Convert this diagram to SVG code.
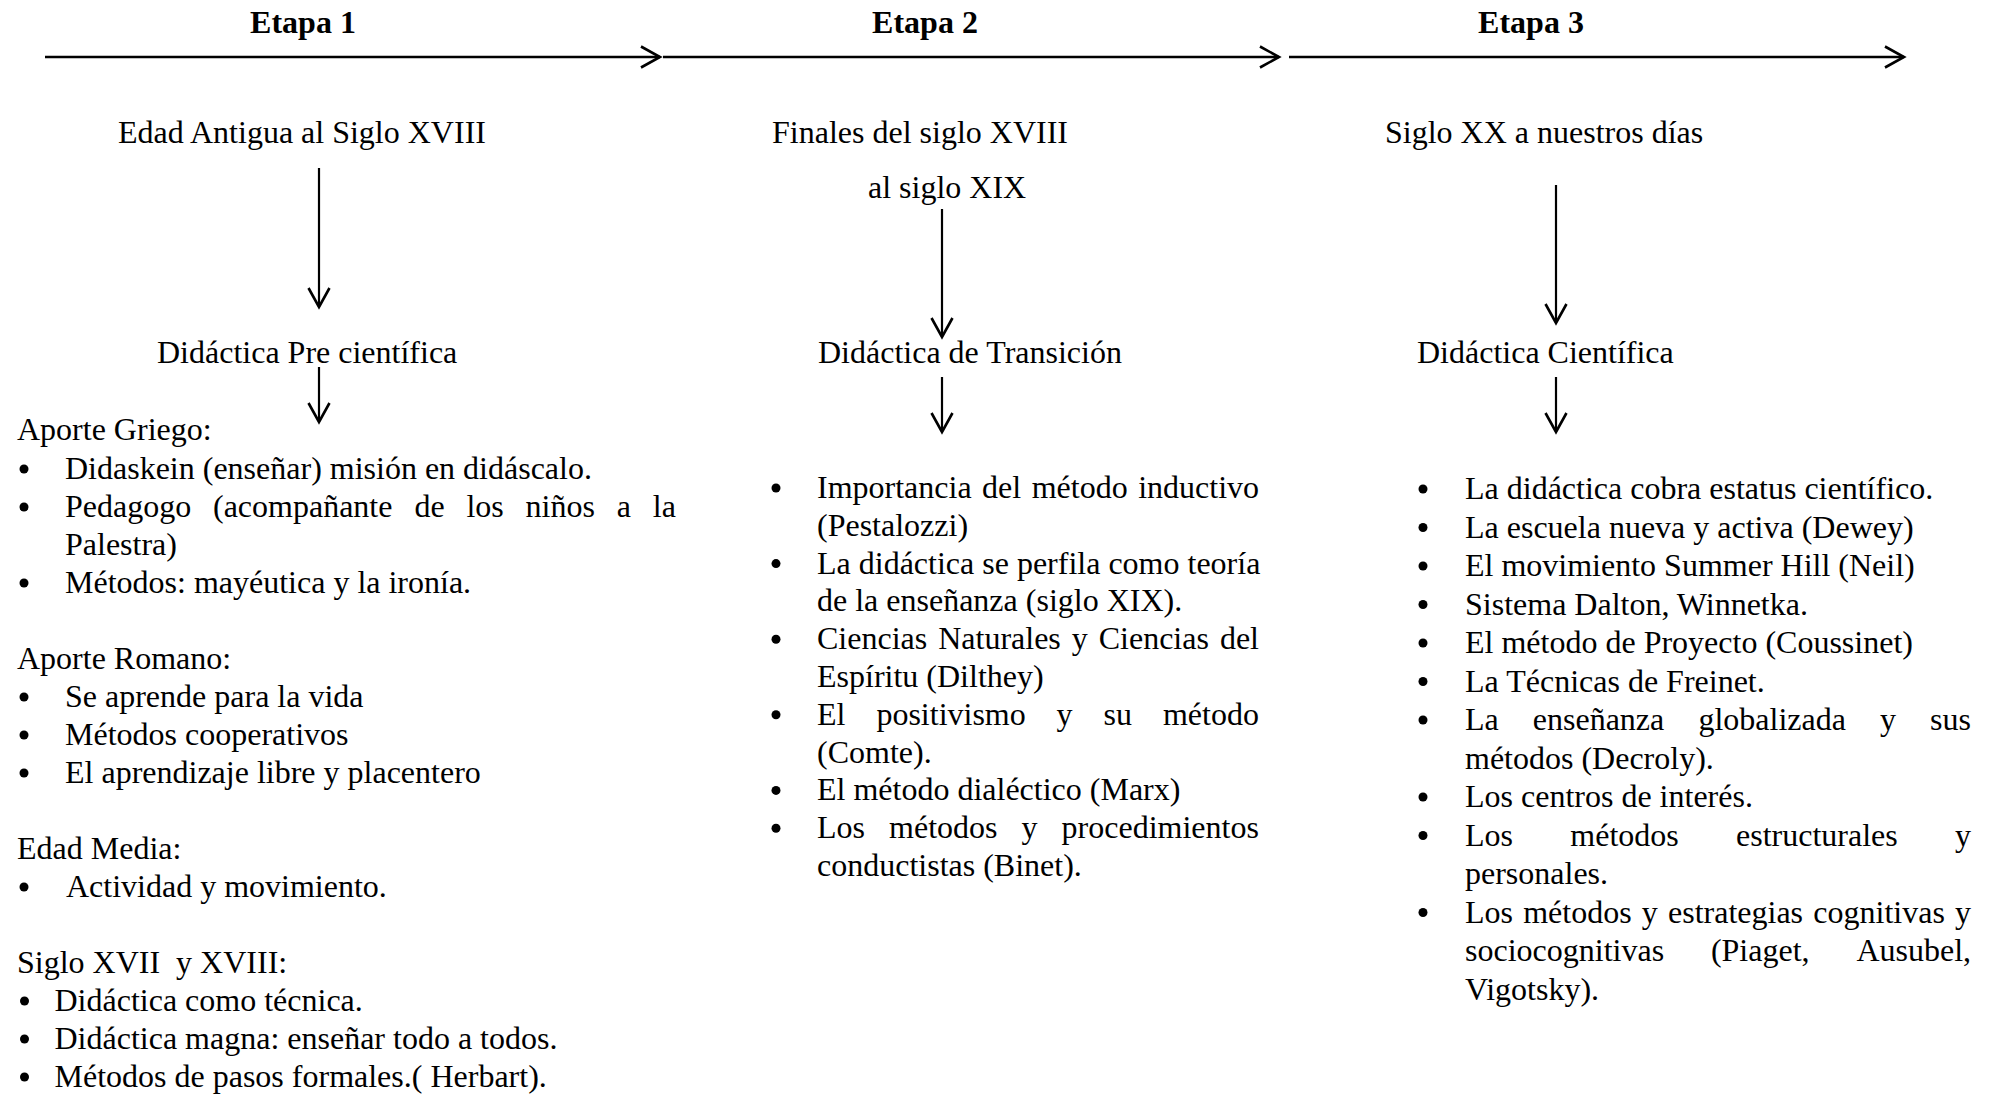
<svg xmlns="http://www.w3.org/2000/svg" width="1998" height="1096" viewBox="0 0 1998 1096">
<style>
  text { font-family: "Liberation Serif", "Times New Roman", serif; font-size: 32px; fill: #000; }
  .stage { font-weight: bold; text-anchor: middle; }
  .hline { stroke: #000; stroke-width: 2.6; fill: none; }
  .vline { stroke: #000; stroke-width: 2.2; fill: none; }
  .bul { fill: #000; }
</style>
<defs>
  <marker id="ah" markerUnits="userSpaceOnUse" markerWidth="26" markerHeight="26" refX="22" refY="13" orient="auto" overflow="visible">
    <path d="M3,2.5 L22,13 L3,23.5" fill="none" stroke="#000" stroke-width="2.6" stroke-linejoin="miter"/>
  </marker>
</defs>
<rect x="0" y="0" width="1998" height="1096" fill="#fff"/>

<g id="stage1"><text class="stage" x="303" y="33">Etapa 1</text></g>
<g id="stage2"><text class="stage" x="925" y="33">Etapa 2</text></g>
<g id="stage3"><text class="stage" x="1531" y="33">Etapa 3</text></g>

<g id="period1"><text x="118" y="143">Edad Antigua al Siglo XVIII</text></g>
<g id="period2">
  <text x="772" y="143">Finales del siglo XVIII</text>
  <text x="868" y="198">al siglo XIX</text>
</g>
<g id="period3"><text x="1385" y="143">Siglo XX a nuestros días</text></g>

<g id="didactica1"><text x="157" y="363">Didáctica Pre científica</text></g>
<g id="didactica2"><text x="818" y="363">Didáctica de Transición</text></g>
<g id="didactica3"><text x="1417" y="363">Didáctica Científica</text></g>

<g id="content1">
  <text x="17" y="440">Aporte Griego:</text>
  <circle class="bul" cx="24" cy="469" r="4.5"/>
  <text x="65" y="479">Didaskein (enseñar) misión en didáscalo.</text>
  <circle class="bul" cx="24" cy="507" r="4.5"/>
  <text y="517"><tspan x="65">Pedagogo</tspan><tspan x="213">(acompañante</tspan><tspan x="414.4">de</tspan><tspan x="466.4">los</tspan><tspan x="525.6">niños</tspan><tspan x="616.8">a</tspan><tspan x="652.8">la</tspan></text>
  <text x="65" y="555">Palestra)</text>
  <circle class="bul" cx="24" cy="583" r="4.5"/>
  <text x="65" y="593">Métodos: mayéutica y la ironía.</text>

  <text x="17" y="669">Aporte Romano:</text>
  <circle class="bul" cx="24" cy="697" r="4.5"/>
  <text x="65" y="707">Se aprende para la vida</text>
  <circle class="bul" cx="24" cy="735" r="4.5"/>
  <text x="65" y="745">Métodos cooperativos</text>
  <circle class="bul" cx="24" cy="773" r="4.5"/>
  <text x="65" y="783">El aprendizaje libre y placentero</text>

  <text x="17" y="859">Edad Media:</text>
  <circle class="bul" cx="24" cy="887" r="4.5"/>
  <text x="66" y="897">Actividad y movimiento.</text>

  <text x="17" y="973" xml:space="preserve">Siglo XVII  y XVIII:</text>
  <circle class="bul" cx="24.5" cy="1001" r="4.5"/>
  <text x="54.5" y="1011">Didáctica como técnica.</text>
  <circle class="bul" cx="24.5" cy="1039" r="4.5"/>
  <text x="54.5" y="1049">Didáctica magna: enseñar todo a todos.</text>
  <circle class="bul" cx="24.5" cy="1077" r="4.5"/>
  <text x="54.5" y="1087">Métodos de pasos formales.( Herbart).</text>
</g>

<g id="content2">
  <circle class="bul" cx="776" cy="488" r="4.5"/>
  <text y="498"><tspan x="817">Importancia</tspan><tspan x="982.1">del</tspan><tspan x="1031.7">método</tspan><tspan x="1138.2">inductivo</tspan></text>
  <text x="817" y="535.8">(Pestalozzi)</text>
  <circle class="bul" cx="776" cy="563.6" r="4.5"/>
  <text x="817" y="573.6">La didáctica se perfila como teoría</text>
  <text x="817" y="611.4">de la enseñanza (siglo XIX).</text>
  <circle class="bul" cx="776" cy="639.2" r="4.5"/>
  <text y="649.2"><tspan x="817">Ciencias</tspan><tspan x="938.2">Naturales</tspan><tspan x="1071.8">y</tspan><tspan x="1098.7">Ciencias</tspan><tspan x="1219.9">del</tspan></text>
  <text x="817" y="687">Espíritu (Dilthey)</text>
  <circle class="bul" cx="776" cy="714.8" r="4.5"/>
  <text y="724.8"><tspan x="817">El</tspan><tspan x="876.4">positivismo</tspan><tspan x="1056.5">y</tspan><tspan x="1103.5">su</tspan><tspan x="1162.9">método</tspan></text>
  <text x="817" y="762.6">(Comte).</text>
  <circle class="bul" cx="776" cy="790.4" r="4.5"/>
  <text x="817" y="800.4">El método dialéctico (Marx)</text>
  <circle class="bul" cx="776" cy="828.2" r="4.5"/>
  <text y="838.2"><tspan x="817">Los</tspan><tspan x="889.1">métodos</tspan><tspan x="1021.6">y</tspan><tspan x="1061.6">procedimientos</tspan></text>
  <text x="817" y="876">conductistas (Binet).</text>
</g>

<g id="content3">
  <circle class="bul" cx="1423" cy="489" r="4.5"/>
  <text x="1465" y="499">La didáctica cobra estatus científico.</text>
  <circle class="bul" cx="1423" cy="527.5" r="4.5"/>
  <text x="1465" y="537.5">La escuela nueva y activa (Dewey)</text>
  <circle class="bul" cx="1423" cy="566" r="4.5"/>
  <text x="1465" y="576">El movimiento Summer Hill (Neil)</text>
  <circle class="bul" cx="1423" cy="604.5" r="4.5"/>
  <text x="1465" y="614.5">Sistema Dalton, Winnetka.</text>
  <circle class="bul" cx="1423" cy="643" r="4.5"/>
  <text x="1465" y="653">El método de Proyecto (Coussinet)</text>
  <circle class="bul" cx="1423" cy="681.5" r="4.5"/>
  <text x="1465" y="691.5">La Técnicas de Freinet.</text>
  <circle class="bul" cx="1423" cy="720" r="4.5"/>
  <text y="730"><tspan x="1465">La</tspan><tspan x="1532.8">enseñanza</tspan><tspan x="1698.4">globalizada</tspan><tspan x="1880">y</tspan><tspan x="1930.1">sus</tspan></text>
  <text x="1465" y="768.5">métodos (Decroly).</text>
  <circle class="bul" cx="1423" cy="797" r="4.5"/>
  <text x="1465" y="807">Los centros de interés.</text>
  <circle class="bul" cx="1423" cy="835.5" r="4.5"/>
  <text y="845.5"><tspan x="1465">Los</tspan><tspan x="1570.3">métodos</tspan><tspan x="1736">estructurales</tspan><tspan x="1955">y</tspan></text>
  <text x="1465" y="884">personales.</text>
  <circle class="bul" cx="1423" cy="912.5" r="4.5"/>
  <text y="922.5"><tspan x="1465">Los</tspan><tspan x="1523.2">métodos</tspan><tspan x="1641.8">y</tspan><tspan x="1668">estrategias</tspan><tspan x="1813.3">cognitivas</tspan><tspan x="1955.1">y</tspan></text>
  <text y="961"><tspan x="1465">sociocognitivas</tspan><tspan x="1710.9">(Piaget,</tspan><tspan x="1856.4">Ausubel,</tspan></text>
  <text x="1465" y="999.5">Vigotsky).</text>
</g>

<g id="connectors">
  <line class="hline" x1="45" y1="57" x2="660" y2="57" marker-end="url(#ah)"/>
  <line class="hline" x1="663" y1="57" x2="1279" y2="57" marker-end="url(#ah)"/>
  <line class="hline" x1="1289" y1="57" x2="1904" y2="57" marker-end="url(#ah)"/>
  <line class="vline" x1="319" y1="168" x2="319" y2="307" marker-end="url(#ah)"/>
  <line class="vline" x1="942" y1="209" x2="942" y2="337" marker-end="url(#ah)"/>
  <line class="vline" x1="1556" y1="185" x2="1556" y2="323" marker-end="url(#ah)"/>
  <line class="vline" x1="319" y1="367" x2="319" y2="422" marker-end="url(#ah)"/>
  <line class="vline" x1="942" y1="377" x2="942" y2="432" marker-end="url(#ah)"/>
  <line class="vline" x1="1556" y1="377" x2="1556" y2="432" marker-end="url(#ah)"/>
</g>
</svg>
